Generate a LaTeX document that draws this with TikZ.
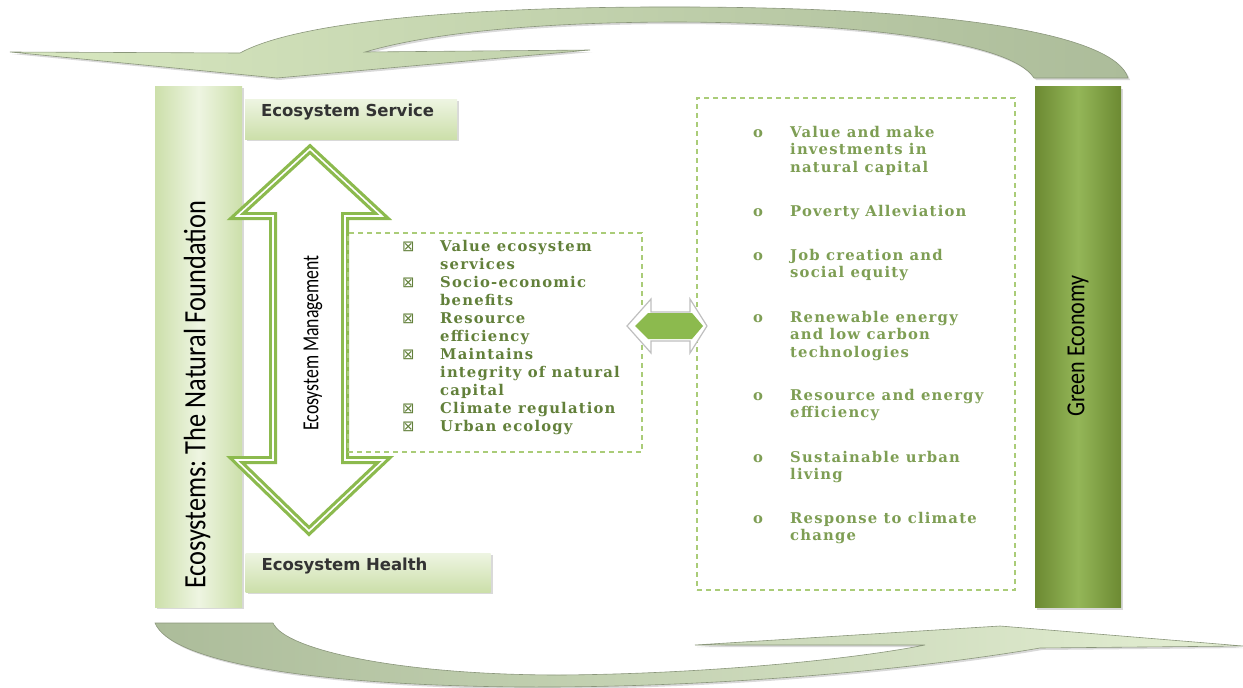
\documentclass[tikz,border=0pt]{standalone}
\usepackage{fontspec}
\usetikzlibrary{shadows}
\newfontfamily\barfont{Carlito}
\newfontfamily\tagfont{DejaVu Sans}
\newfontfamily\listfont[LetterSpace=8]{DejaVu Serif}
\newfontfamily\symfont{DejaVu Sans}
\definecolor{leaf}{RGB}{140,186,78}
\definecolor{dashgreen}{RGB}{170,204,120}
\definecolor{paleedge}{RGB}{204,223,170}
\definecolor{palemid}{RGB}{238,245,226}
\definecolor{deepedge}{RGB}{108,138,50}
\definecolor{deepmid}{RGB}{148,182,88}
\definecolor{roletext}{RGB}{98,128,58}
\definecolor{goaltext}{RGB}{126,158,84}
\definecolor{swoopa}{RGB}{216,232,192}
\definecolor{swoopb}{RGB}{172,188,154}
\frenchspacing

\begin{document}
\begin{tikzpicture}[x=1pt, y=-1pt,
    shade/.style={drop shadow={shadow xshift=2pt, shadow yshift=-2pt, opacity=.3}},
    bar/.style={shade, inner sep=0, left color=paleedge, right color=paleedge, middle color=palemid},
    deepbar/.style={shade, inner sep=0, left color=deepedge, right color=deepedge, middle color=deepmid},
    tag/.style={shade, top color=palemid, bottom color=paleedge, inner xsep=16pt, align=left,
        text height=12pt, font=\tagfont\bfseries\fontsize{16.5}{20}\selectfont, text=black!80},
    upright/.style={rotate=90, inner sep=0, font=\barfont\fontsize{31}{36}\selectfont},
    dashbox/.style={draw=dashgreen, line width=1.5pt, dash pattern=on 5pt off 4pt, inner sep=0},
    role/.style={anchor=base west, inner sep=0, text=roletext, font=\listfont\bfseries\fontsize{14.8}{18}\selectfont},
    goal/.style={anchor=base west, inner sep=0, text=goaltext, font=\listfont\bfseries\fontsize{14.8}{17.5}\selectfont}]
\useasboundingbox (0,0) rectangle (1243,688);

% swooping arrows
\shade[left color=swoopa, right color=swoopb, draw=swoopb!80!black, line width=.6pt]
    (10,52) -- (277,78) -- (590,50) -- (365,52)
    .. controls (440,30) and (560,22) .. (680,22)
    .. controls (850,23) and (1010,40) .. (1034,78) -- (1128,78)
    .. controls (1115,35) and (960,8) .. (690,7)
    .. controls (480,6) and (300,20) .. (240,53) -- cycle;
\shade[left color=swoopb, right color=swoopa!70!white, draw=swoopb!80!black, line width=.6pt]
    (155,623) -- (273,623)
    .. controls (285,650) and (400,675) .. (560,675)
    .. controls (700,674) and (850,660) .. (925,645) -- (695,645) -- (1000,626)
    -- (1243,646) -- (1040,648)
    .. controls (900,672) and (700,688) .. (520,687)
    .. controls (300,685) and (170,660) .. (155,623) -- cycle;

% bars and tags
\node[bar, minimum width=87, minimum height=521] (found) at (198.5,346.5) {};
\node[upright] (found-label) at (197,395) {\scalebox{0.85}[1]{Ecosystems: The Natural Foundation}};
\node[deepbar, minimum width=86, minimum height=521] (green) at (1078,347) {};
\node[upright] (green-label) at (1078,346) {\fontsize{26}{30}\selectfont\scalebox{0.85}[1]{Green Economy}};
\node[tag, minimum height=40, text width=180, text depth=18pt] (service) at (351,119) {Ecosystem Service};
\node[tag, minimum height=39, text width=213, text depth=17pt] (health) at (368,572.5) {Ecosystem Health};

% management double arrow
\draw[leaf, line width=8pt, line join=miter, fill=white]
    (310,149) -- (382,216) -- (345,216) -- (345,460) -- (384,460) -- (309,531)
    -- (236,460) -- (273,460) -- (273,216) -- (237,216) -- cycle;
\draw[white, line width=1.6pt, line join=miter]
    (310,149) -- (382,216) -- (345,216) -- (345,460) -- (384,460) -- (309,531)
    -- (236,460) -- (273,460) -- (273,216) -- (237,216) -- cycle;
\node[upright] (mgmt) at (313,343) {\fontsize{23}{26}\selectfont\scalebox{0.77}[1]{Ecosystem Management}};

% dashed boxes
\node[dashbox, minimum width=294, minimum height=219] (roles) at (495,342.5) {};
\node[dashbox, minimum width=318, minimum height=492] (goals) at (856,344) {};

\node[role] (r1) at (402,251) {\makebox[38pt][l]{\symfont\mdseries ⊠}\parbox[t]{200pt}{Value ecosystem\\services}};
\node[role] (r2) at (402,287) {\makebox[38pt][l]{\symfont\mdseries ⊠}\parbox[t]{200pt}{Socio-economic\\benefits}};
\node[role] (r3) at (402,323) {\makebox[38pt][l]{\symfont\mdseries ⊠}\parbox[t]{200pt}{Resource\\efficiency}};
\node[role] (r4) at (402,359) {\makebox[38pt][l]{\symfont\mdseries ⊠}\parbox[t]{200pt}{Maintains\\integrity of natural\\capital}};
\node[role] (r5) at (402,413) {\makebox[38pt][l]{\symfont\mdseries ⊠}\parbox[t]{200pt}{Climate regulation}};
\node[role] (r6) at (402,431) {\makebox[38pt][l]{\symfont\mdseries ⊠}\parbox[t]{200pt}{Urban ecology}};

\node[goal] (g1) at (753,137) {\makebox[37pt][l]{o}\parbox[t]{210pt}{Value and make\\investments in\\natural capital}};
\node[goal] (g2) at (753,216) {\makebox[37pt][l]{o}\parbox[t]{210pt}{Poverty Alleviation}};
\node[goal] (g3) at (753,260) {\makebox[37pt][l]{o}\parbox[t]{210pt}{Job creation and\\social equity}};
\node[goal] (g4) at (753,322) {\makebox[37pt][l]{o}\parbox[t]{210pt}{Renewable energy\\and low carbon\\technologies}};
\node[goal] (g5) at (753,400) {\makebox[37pt][l]{o}\parbox[t]{210pt}{Resource and energy\\efficiency}};
\node[goal] (g6) at (753,462) {\makebox[37pt][l]{o}\parbox[t]{210pt}{Sustainable urban\\living}};
\node[goal] (g7) at (753,523) {\makebox[37pt][l]{o}\parbox[t]{210pt}{Response to climate\\change}};

% link between the boxes
\draw[fill=white, draw=black!25, line width=1.2pt, line join=miter]
    (627,326) -- (651,299) -- (651,312) -- (690,312) -- (690,299) -- (707,326)
    -- (690,353) -- (690,341) -- (651,341) -- (651,353) -- cycle;
\fill[leaf] (635,326) -- (648,313) -- (692,313) -- (703,326) -- (692,339) -- (648,339) -- cycle;
\end{tikzpicture}
\end{document}
